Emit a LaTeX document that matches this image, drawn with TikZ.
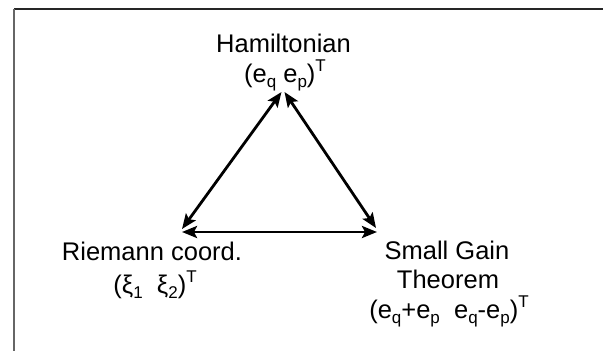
\documentclass[tikz,border=0pt]{standalone}
\usepackage{fontspec}
\setmainfont{Liberation Sans}
\usetikzlibrary{arrows.meta}
\newcommand\sbx[1]{\raisebox{-0.22em}{\fontsize{17}{17}\selectfont #1}}
\newcommand\spx[1]{\raisebox{0.42em}{\fontsize{17}{17}\selectfont #1}}
\tikzset{
  lbl/.style={inner sep=0pt, anchor=base, font=\fontsize{25.5}{30}\selectfont},
  link/.style={line width=2.8pt, {Stealth[length=15pt,width=12pt,inset=3pt]}-{Stealth[length=15pt,width=12pt,inset=3pt]}, shorten <=0pt, shorten >=0pt},
  frameline/.style={line width=1.8pt}
}
\begin{document}
\begin{tikzpicture}[x=1pt,y=-1pt]
\useasboundingbox (0,0) rectangle (605,351);
\fill[white] (0,0) rectangle (605,351);
% frame
\coordinate (fTL) at (14,9);
\coordinate (fTR) at (603,9);
\coordinate (fBL) at (14,351);
\draw[frameline, black!85] (fTL) -- (fTR);
\draw[frameline, black!60] (fTL) -- (fBL);
% labels
\node[lbl] (hamA) at (283.5,52) {Hamiltonian};
\node[lbl] (hamB) at (285,82) {(e\sbx{q} e\sbx{p})\spx{T}};
\node[lbl] (rieA) at (152,260) {Riemann coord.};
\node[lbl] (rieB) at (155,293) {(ξ\sbx{1}\ \ ξ\sbx{2})\spx{T}};
\node[lbl] (sgA) at (447,259) {Small Gain};
\node[lbl] (sgB) at (448,288) {Theorem};
\node[lbl] (sgC) at (449,318) {(e\sbx{q}+e\sbx{p}\ \ e\sbx{q}-e\sbx{p})\spx{T}};
% arrow end points
\coordinate (tL) at (281.5,92);
\coordinate (tR) at (284.5,92);
\coordinate (lD) at (182,229);
\coordinate (lH) at (182,232);
\coordinate (rD) at (376,228);
\coordinate (rH) at (377,232);
\draw[link] (lD) -- (tL);
\draw[link] (rD) -- (tR);
\draw[link] (lH) -- (rH);
\end{tikzpicture}
\end{document}
